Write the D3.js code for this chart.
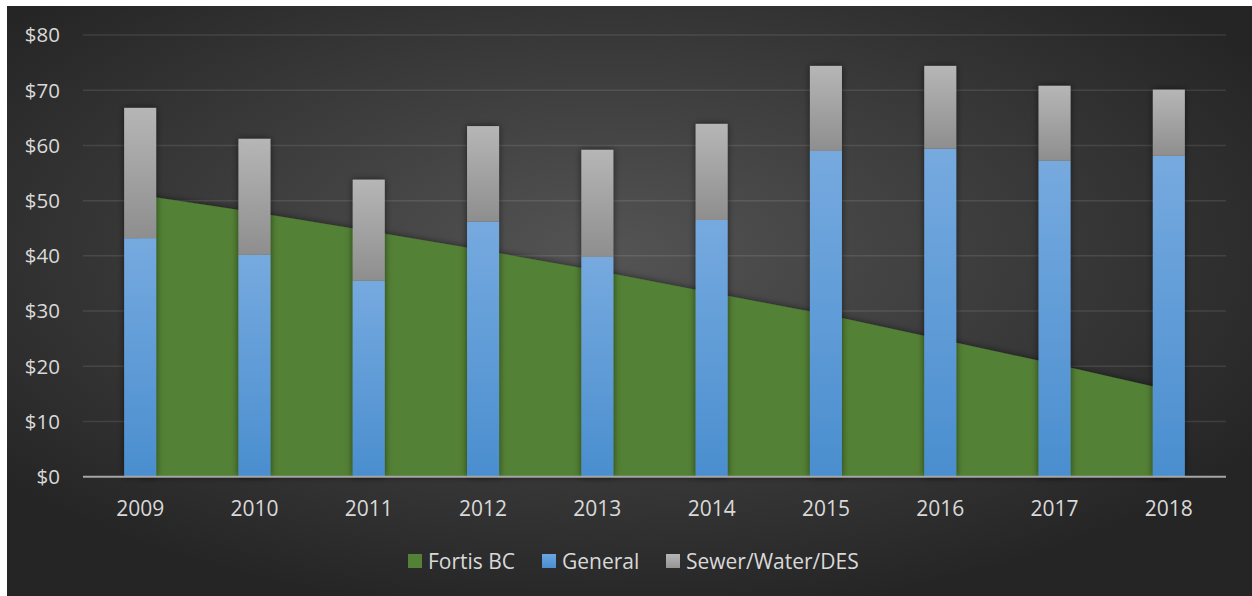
<!DOCTYPE html>
<html>
<head>
<meta charset="utf-8">
<script src="https://cdn.jsdelivr.net/npm/d3@7"></script>
<style>
  html, body { margin: 0; padding: 0; background: #fff; }
  svg { display: block; }
  text { font-family: "Open Sans", sans-serif; fill: #d9d9d9; }
</style>
</head>
<body>
<svg width="1252" height="596"></svg>
<script>
// 데이터
const years = ["2009", "2010", "2011", "2012", "2013", "2014", "2015", "2016", "2017", "2018"];
const fortis = [51.0, 47.9, 44.5, 41.0, 37.3, 33.3, 29.4, 24.9, 20.4, 15.7];
const general = [43.2, 40.2, 35.5, 46.2, 39.8, 46.5, 59.0, 59.4, 57.2, 58.1];
const sewer = [23.6, 21.0, 18.3, 17.3, 19.4, 17.4, 15.4, 15.0, 13.6, 12.0];
const yTicks = [0, 10, 20, 30, 40, 50, 60, 70, 80];
const seriesNames = ["Fortis BC", "General", "Sewer/Water/DES"];

const svg = d3.select("svg");
const defs = svg.append("defs");

// 배경 그라디언트
const bg = defs.append("radialGradient").attr("id", "bg")
  .attr("cx", "48%").attr("cy", "42%").attr("r", "62%");
bg.append("stop").attr("offset", "0%").attr("stop-color", "#545454");
bg.append("stop").attr("offset", "100%").attr("stop-color", "#252525");

function vGrad(id, top, bottom) {
  const gr = defs.append("linearGradient").attr("id", id)
    .attr("x1", 0).attr("y1", 0).attr("x2", 0).attr("y2", 1);
  gr.append("stop").attr("offset", "0%").attr("stop-color", top);
  gr.append("stop").attr("offset", "100%").attr("stop-color", bottom);
}
vGrad("gBlue", "#76aadf", "#4a8ecf");
vGrad("gGrey", "#b6b6b6", "#8e8e8e");
vGrad("gBlueLeg", "#6aa6e2", "#4a8ecf");
vGrad("gGreyLeg", "#b6b6b6", "#959595");

const shadow = defs.append("filter").attr("id", "shadow")
  .attr("x", "-30%").attr("y", "-10%").attr("width", "160%").attr("height", "120%");
shadow.append("feDropShadow").attr("dx", 0).attr("dy", 0)
  .attr("stdDeviation", 3.5).attr("flood-color", "#000").attr("flood-opacity", 0.55);

svg.append("rect").attr("x", 7).attr("y", 6).attr("width", 1245).attr("height", 590)
  .attr("fill", "url(#bg)");

// 스케일
const x = d3.scaleBand().domain(years).range([83, 1226])
  .paddingInner(0.72).paddingOuter(0.36);
const y = d3.scaleLinear().domain([0, 80]).range([476.7, 35]);
const cx = d => x(d) + x.bandwidth() / 2;

// 그리드
svg.append("g").selectAll("line").data(yTicks.slice(1)).join("line")
  .attr("x1", 83).attr("x2", 1226)
  .attr("y1", d => y(d)).attr("y2", d => y(d))
  .attr("stroke", "#ffffff").attr("stroke-opacity", 0.1).attr("stroke-width", 1.5);

// 영역 (Fortis BC)
const area = d3.area()
  .x((d, i) => cx(years[i]))
  .y0(y(0))
  .y1(d => y(d));
svg.append("path").datum(fortis)
  .attr("d", area)
  .attr("fill", "#538135")
  .attr("filter", "url(#shadow)");

// 누적 막대
const stackData = years.map((yr, i) => ({ year: yr, general: general[i], sewer: sewer[i] }));
const stack = d3.stack().keys(["general", "sewer"])(stackData);
const fills = { general: "url(#gBlue)", sewer: "url(#gGrey)" };

const barG = svg.append("g").attr("filter", "url(#shadow)");
stack.forEach(layer => {
  barG.append("g").selectAll("rect").data(layer).join("rect")
    .attr("x", d => x(d.data.year))
    .attr("width", x.bandwidth())
    .attr("y", d => y(d[1]))
    .attr("height", d => y(d[0]) - y(d[1]))
    .attr("fill", fills[layer.key]);
});

// 축선
svg.append("line").attr("x1", 83).attr("x2", 1226)
  .attr("y1", y(0)).attr("y2", y(0))
  .attr("stroke", "#a6a6a6").attr("stroke-width", 2);

// Y 라벨
svg.append("g").selectAll("text").data(yTicks).join("text")
  .attr("x", 60).attr("y", d => y(d))
  .attr("dy", "0.36em")
  .attr("text-anchor", "end")
  .style("font-size", "20.5px")
  .text(d => "$" + d);

// X 라벨
svg.append("g").selectAll("text").data(years).join("text")
  .attr("x", d => cx(d)).attr("y", 508)
  .attr("dy", "0.36em")
  .attr("text-anchor", "middle")
  .style("font-size", "21px")
  .text(d => d);

// 범례
const legendFills = ["#538135", "url(#gBlueLeg)", "url(#gGreyLeg)"];
const legendX = [408, 542, 666];
const leg = svg.append("g").selectAll("g").data(seriesNames).join("g")
  .attr("transform", (d, i) => `translate(${legendX[i]},554)`);
leg.append("rect").attr("width", 14).attr("height", 14)
  .attr("fill", (d, i) => legendFills[i]);
leg.append("text").attr("x", 20).attr("y", 7).attr("dy", "0.36em")
  .style("font-size", "21px")
  .text(d => d);
</script>
</body>
</html>
